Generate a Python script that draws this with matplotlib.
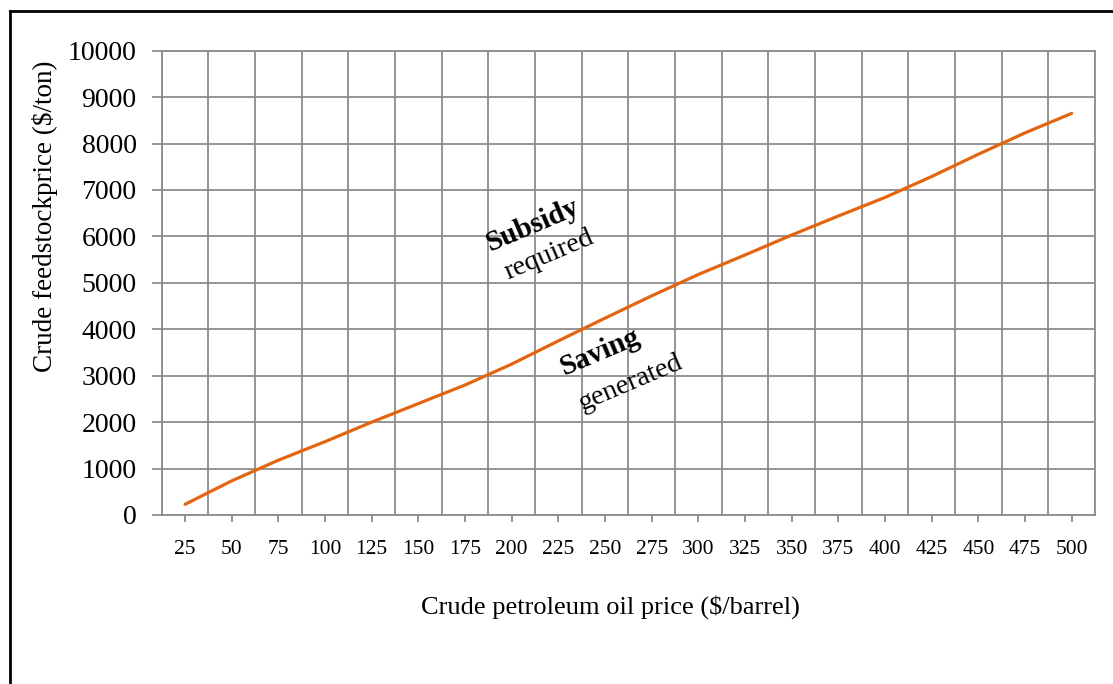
import matplotlib.pyplot as plt
import numpy as np
from matplotlib.lines import Line2D

# crude oil price categories ($/barrel)
oil_price = ['25', '50', '75', '100', '125', '150', '175', '200', '225', '250',
             '275', '300', '325', '350', '375', '400', '425', '450', '475', '500']
# break-even crude feedstock price ($/ton)
feedstock_price = [230, 735, 1180, 1580, 2000, 2400, 2800, 3250, 3750, 4240,
                   4720, 5180, 5600, 6030, 6440, 6840, 7290, 7770, 8230, 8650]
y_ticks = list(range(0, 10001, 1000))

plt.rcParams['font.family'] = ['Liberation Serif', 'DejaVu Serif']

W, H = 1113, 684
fig = plt.figure(figsize=(W / 100, H / 100), dpi=100)
ax = fig.add_axes([161.7 / W, (H - 515) / H, (1095 - 161.7) / W, (515 - 50.7) / H])

grid_col = '#8c8c8c'
ax.plot(oil_price, feedstock_price, color='#e4650f', lw=2.3, solid_capstyle='round', zorder=3)

ax.set_xlim(-0.5, len(oil_price) - 0.5)
ax.set_ylim(0, 10000)
ax.set_yticks(y_ticks)
ax.set_xticks(np.arange(-0.5, len(oil_price), 1), minor=True)
ax.grid(True, which='minor', axis='x', color=grid_col, lw=1.3)
ax.grid(True, which='major', axis='y', color=grid_col, lw=1.3)
ax.tick_params(axis='x', which='minor', length=0)
ax.tick_params(axis='x', which='major', length=5, width=1.3, color=grid_col,
               labelsize=15.5, pad=13)
ax.tick_params(axis='y', length=7, width=1.3, color=grid_col, labelsize=20, pad=11)
for s in ax.spines.values():
    s.set_color(grid_col)
    s.set_linewidth(1.3)

fig.text(610 / W, 1 - 607 / H, 'Crude petroleum oil price ($/barrel)',
         fontsize=19, ha='center', va='center')
fig.text(45 / W, 1 - 216 / H, 'Crude feedstockprice ($/ton)', rotation=90,
         fontsize=19.5, ha='center', va='center')

# region annotations along the line
rot = 23
ax.text(7.45, 6250, 'Subsidy', fontsize=21, fontweight='bold', rotation=rot,
        ha='center', va='center')
ax.text(7.8, 5600, 'required', fontsize=20.5, rotation=rot, ha='center', va='center')
ax.text(8.9, 3500, 'Saving', fontsize=21, fontweight='bold', rotation=rot,
        ha='center', va='center')
ax.text(9.55, 2850, 'generated', fontsize=20.5, rotation=rot, ha='center', va='center')

# frame (top and left edges only)
fig.add_artist(Line2D([9.5 / W, 9.5 / W], [0, 1 - 11 / H], transform=fig.transFigure,
                      color='black', lw=2))
fig.add_artist(Line2D([9.5 / W, 1], [1 - 11 / H, 1 - 11 / H], transform=fig.transFigure,
                      color='black', lw=2))

fig.savefig('out.png', dpi=100)
